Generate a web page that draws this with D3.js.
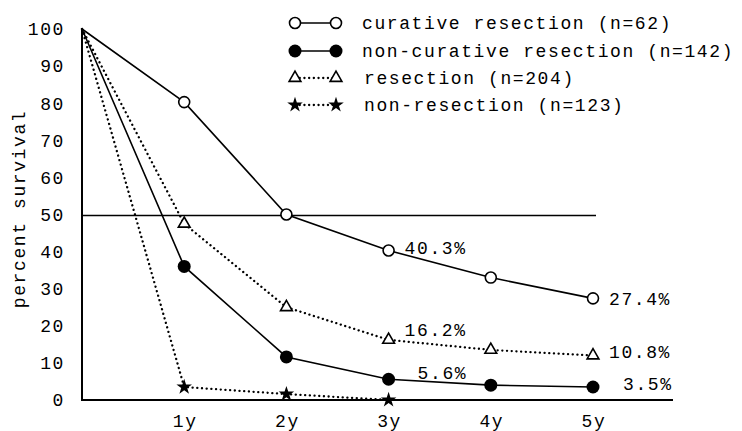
<!DOCTYPE html>
<html>
<head>
<meta charset="utf-8">
<script src="https://cdn.jsdelivr.net/npm/d3@7/dist/d3.min.js"></script>
<style>
  html, body { margin: 0; padding: 0; background: #fff; }
  text { font-family: "Liberation Mono", "DejaVu Sans Mono", monospace; font-size: 18px; letter-spacing: 1.6px; fill: #000; }
</style>
</head>
<body>
<svg id="chart" width="742" height="431"></svg>
<script>
// ---- data ----
const years = [0, 1, 2, 3, 4, 5];
const xTickValues = [1, 2, 3, 4, 5];
const xTickLabels = ["1y", "2y", "3y", "4y", "5y"];
const yTickValues = [0, 10, 20, 30, 40, 50, 60, 70, 80, 90, 100];
const curative = [100, 80.3, 50, 40.3, 33, 27.4];
const nonCurative = [100, 36, 11.6, 5.6, 4.0, 3.5];
const resection = [100, 47.5, 25, 16.2, 13.5, 12];
const nonResection = [100, 3.5, 1.6, 0];
const seriesNames = ["curative resection (n=62)", "non-curative resection (n=142)", "resection (n=204)", "non-resection (n=123)"];
const annotationTexts = ["40.3%", "27.4%", "16.2%", "10.8%", "5.6%", "3.5%"];
const referenceValue = 50;

// ---- layout ----
const svg = d3.select("#chart");
const x = d3.scaleLinear().domain([0, 5]).range([82, 593]);
const y = d3.scaleLinear().domain([0, 100]).range([400, 29]);

const DOT = "0.1,4.6";
const series = [
  { name: seriesNames[0], values: curative, marker: "openCircle", dash: null },
  { name: seriesNames[1], values: nonCurative, marker: "filledCircle", dash: null },
  { name: seriesNames[2], values: resection, marker: "openTriangle", dash: DOT },
  { name: seriesNames[3], values: nonResection, marker: "star", dash: DOT }
];

// axes lines
svg.append("line").attr("x1", x(0)).attr("x2", x(0)).attr("y1", y(100)).attr("y2", y(0))
  .attr("stroke", "#000").attr("stroke-width", 2);
svg.append("line").attr("x1", x(0) - 1).attr("x2", 673).attr("y1", y(0)).attr("y2", y(0))
  .attr("stroke", "#000").attr("stroke-width", 2);
// 50% reference line
svg.append("line").attr("x1", x(0)).attr("x2", 596).attr("y1", y(referenceValue) + 1).attr("y2", y(referenceValue) + 1)
  .attr("stroke", "#000").attr("stroke-width", 1.5);

// y tick labels
svg.append("g").selectAll("text").data(yTickValues).join("text")
  .attr("x", 65).attr("y", d => y(d)).attr("dy", "0.35em")
  .attr("text-anchor", "end").text(d => d);

// x tick labels
svg.append("g").selectAll("text").data(xTickValues).join("text")
  .attr("x", d => x(d) + 1).attr("y", 421).attr("dy", "0.35em")
  .attr("text-anchor", "middle").text((d, i) => xTickLabels[i]);

// y title
svg.append("text").attr("transform", "translate(19,209) rotate(-90)")
  .attr("text-anchor", "middle").attr("dy", "0.35em").text("percent survival");

// lines
const line = d3.line().x((d, i) => x(years[i])).y(d => y(d));
series.forEach(s => {
  svg.append("path").datum(s.values).attr("d", line)
    .attr("fill", "none").attr("stroke", "#000")
    .attr("stroke-width", s.dash ? 2.3 : 1.6)
    .attr("stroke-dasharray", s.dash)
    .attr("stroke-linecap", s.dash ? "round" : "butt");
});

function drawMarker(g, type, cx, cy) {
  if (type === "openCircle") {
    g.append("circle").attr("cx", cx).attr("cy", cy).attr("r", 5.5)
      .attr("fill", "#fff").attr("stroke", "#000").attr("stroke-width", 1.6);
  } else if (type === "filledCircle") {
    g.append("circle").attr("cx", cx).attr("cy", cy).attr("r", 6.5).attr("fill", "#000");
  } else if (type === "openTriangle") {
    g.append("path").attr("d", d3.symbol(d3.symbolTriangle, 60)())
      .attr("transform", `translate(${cx},${cy})`)
      .attr("fill", "#fff").attr("stroke", "#000").attr("stroke-width", 1.6);
  } else if (type === "star") {
    g.append("path").attr("d", d3.symbol(d3.symbolStar, 75)())
      .attr("transform", `translate(${cx},${cy})`).attr("fill", "#000");
  }
}

// markers (skip the starting point at 0)
const mg = svg.append("g");
series.forEach(s => {
  s.values.forEach((v, i) => {
    if (i === 0) return;
    drawMarker(mg, s.marker, x(years[i]), y(v));
  });
});

// annotations
const annotations = [
  { s: 0, i: 3, dx: 16, dy: -3 },
  { s: 0, i: 5, dx: 16, dy: 0 },
  { s: 2, i: 3, dx: 16, dy: -10 },
  { s: 2, i: 5, dx: 16, dy: -4 },
  { s: 1, i: 3, dx: 29, dy: -7 },
  { s: 1, i: 5, dx: 30, dy: -3 }
];
svg.append("g").selectAll("text").data(annotations).join("text")
  .attr("x", d => x(years[d.i]) + d.dx)
  .attr("y", d => y(series[d.s].values[d.i]) + d.dy)
  .attr("dy", "0.35em")
  .text((d, k) => annotationTexts[k]);

// legend
const legendRows = [23, 51, 78, 105];
const lg = svg.append("g");
series.forEach((s, k) => {
  const ly = legendRows[k];
  lg.append("line").attr("x1", 295).attr("x2", 335).attr("y1", ly).attr("y2", ly)
    .attr("stroke", "#000").attr("stroke-width", s.dash ? 2.3 : 1.6)
    .attr("stroke-dasharray", s.dash).attr("stroke-linecap", s.dash ? "round" : "butt");
  drawMarker(lg, s.marker, 295, ly);
  drawMarker(lg, s.marker, 336, ly);
  lg.append("text").attr("x", 362 + (k >= 2 ? 2 : 0)).attr("y", ly).attr("dy", "0.35em").text(s.name);
});
</script>
</body>
</html>
